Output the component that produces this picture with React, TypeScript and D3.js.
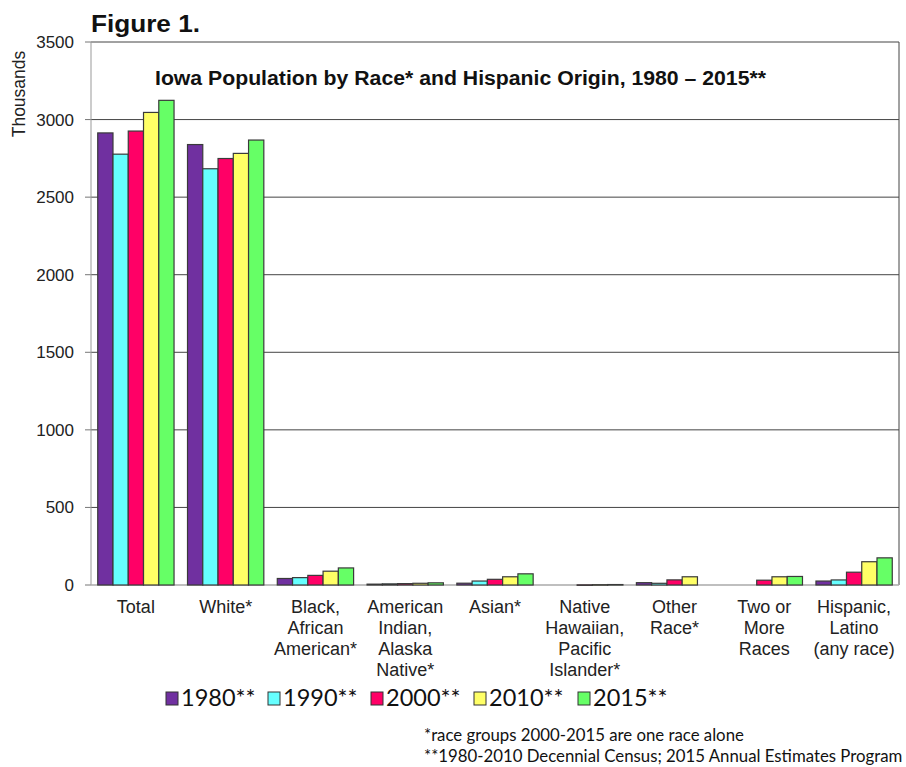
import React from "react";
import * as d3 from "d3";

const categories: string[][] = [
  ["Total"],
  ["White*"],
  ["Black,", "African", "American*"],
  ["American", "Indian,", "Alaska", "Native*"],
  ["Asian*"],
  ["Native", "Hawaiian,", "Pacific", "Islander*"],
  ["Other", "Race*"],
  ["Two or", "More", "Races"],
  ["Hispanic,", "Latino", "(any race)"],
];
const seriesNames = ["1980**", "1990**", "2000**", "2010**", "2015**"];
const seriesColors = ["#7030A0", "#66FFFF", "#FF0066", "#FFFF66", "#66FF66"];
// values in thousands; null = no bar
const v1980: (number | null)[] = [2914, 2839, 42, 5.5, 11.6, null, 15, null, 25.5];
const v1990: (number | null)[] = [2777, 2683, 47.5, 7.3, 25.5, null, 11, null, 32.6];
const v2000: (number | null)[] = [2926, 2749, 62, 8.9, 36.6, 1.0, 33, 31, 82.5];
const v2010: (number | null)[] = [3046, 2782, 89, 11.1, 53, 2.0, 53, 53, 150];
const v2015: (number | null)[] = [3124, 2868, 110, 14, 72, 2.9, null, 55, 175];
const yTicks = [0, 500, 1000, 1500, 2000, 2500, 3000, 3500];
const footnotes = [
  "*race groups 2000-2015 are one race alone",
  "**1980-2010 Decennial Census; 2015 Annual Estimates Program",
];

export default function App() {
  const W = 906, H = 767;
  const left = 91, right = 899, top = 42, bottom = 585;
  const series = [v1980, v1990, v2000, v2010, v2015];
  const y = d3.scaleLinear().domain([0, 3500]).range([bottom, top]);
  const x0 = d3.scaleBand<number>().domain(d3.range(categories.length)).range([left, right]).paddingInner(0.15).paddingOuter(0.075);
  const x1 = d3.scaleBand<number>().domain(d3.range(series.length)).range([0, x0.bandwidth()]);
  const font = "'Liberation Sans', Arial, sans-serif";
  const lfont = "Lato, 'Open Sans', sans-serif";
  const legendX = [166, 268, 371, 474, 578];
  return (
    <svg width={W} height={H} style={{ position: "absolute", left: 0, top: 0, background: "#fff" }}>
      <text x={91} y={32} fontFamily={font} fontWeight="bold" fontSize={23.5} fill="#111" textLength={109} lengthAdjust="spacingAndGlyphs">Figure 1.</text>
      {yTicks.map((t) => (
        <g key={t}>
          {t > 0 && <line x1={left} x2={right} y1={y(t)} y2={y(t)} stroke="#444" strokeWidth={1} />}
          <line x1={left - 6} x2={left} y1={y(t)} y2={y(t)} stroke="#777" />
          <text x={74} y={y(t) + 6} textAnchor="end" fontFamily={font} fontSize={17} fill="#222">{t}</text>
        </g>
      ))}
      <line x1={left} x2={left} y1={top} y2={bottom} stroke="#999" />
      <line x1={right} x2={right} y1={top} y2={bottom} stroke="#444" />
      <line x1={left} x2={right} y1={bottom} y2={bottom} stroke="#aaa" strokeWidth={1.5} />
      <text transform={`translate(25,94) rotate(-90)`} textAnchor="middle" fontFamily={font} fontSize={17.5} fill="#222">Thousands</text>
      <text x={155} y={85} fontFamily={font} fontWeight="bold" fontSize={19.5} fill="#111" textLength={611} lengthAdjust="spacingAndGlyphs">Iowa Population by Race* and Hispanic Origin, 1980 – 2015**</text>
      {categories.map((c, ci) => (
        <g key={ci}>
          {series.map((s, si) => {
            const v = s[ci];
            if (v == null) return null;
            const bx = (x0(ci) as number) + (x1(si) as number);
            return (
              <rect key={si} x={bx} y={y(v)} width={x1.bandwidth()} height={Math.max(0.5, bottom - y(v))}
                fill={seriesColors[si]} stroke="#3a3a3a" strokeWidth={1.2} />
            );
          })}
          {c.map((line, li) => (
            <text key={li} x={(x0(ci) as number) + x0.bandwidth() / 2} y={613 + li * 21} textAnchor="middle"
              fontFamily={font} fontSize={18} fill="#222">{line}</text>
          ))}
        </g>
      ))}
      {seriesNames.map((n, i) => (
        <g key={n}>
          <rect x={legendX[i]} y={692} width={12} height={13} fill={seriesColors[i]} stroke="#333" strokeWidth={1} />
          <text x={legendX[i] + 15} y={706} fontFamily={lfont} fontSize={23.5} fill="#111">{n}</text>
        </g>
      ))}
      {footnotes.map((f, i) => (
        <text key={i} x={424} y={741 + i * 21} fontFamily={lfont} fontSize={16.8} fill="#111">{f}</text>
      ))}
    </svg>
  );
}
